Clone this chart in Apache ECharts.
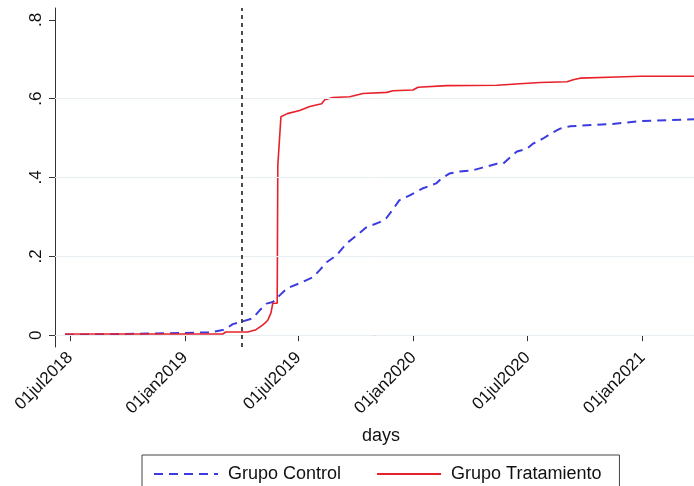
<!DOCTYPE html>
<html style="height: 100%">
<head>
    <meta charset="utf-8">
    <title>Grupo Control vs Grupo Tratamiento</title>
    <script src="https://cdn.jsdelivr.net/npm/echarts@6/dist/echarts.min.js"></script>
    <style>
        html, body { margin: 0; padding: 0; background: #fff; }
        #container { width: 694px; height: 486px; }
    </style>
</head>
<body>
<div id="container"></div>
<script>
    // ticks of the x axis (dates) and their labels
    var xTickDates = ['2018-07-01', '2019-01-01', '2019-07-01', '2020-01-01', '2020-07-01', '2021-01-01'];
    var xTickLabels = ['01jul2018', '01jan2019', '01jul2019', '01jan2020', '01jul2020', '01jan2021'];
    var yTickValues = [0, 0.2, 0.4, 0.6, 0.8];
    var yTickLabels = ['0', '.2', '.4', '.6', '.8'];
    var gridValues = [0, 0.2, 0.4, 0.6];
    var cutDate = '2019-04-01';

    // Grupo Control (dashed blue)
    var controlDates = ['2018-06-23', '2018-11-06', '2019-02-10', '2019-03-02', '2019-03-09', '2019-03-18', '2019-03-30',
        '2019-04-19', '2019-04-30', '2019-05-11', '2019-05-21', '2019-06-01', '2019-06-13', '2019-07-03', '2019-07-24',
        '2019-08-04', '2019-08-15', '2019-08-31', '2019-09-16', '2019-10-02', '2019-10-17', '2019-11-07', '2019-11-18',
        '2019-11-28', '2019-12-09', '2019-12-25', '2020-01-15', '2020-02-06', '2020-02-14', '2020-02-27', '2020-03-14',
        '2020-04-04', '2020-04-20', '2020-05-13', '2020-05-23', '2020-06-03', '2020-06-14', '2020-06-30', '2020-07-10',
        '2020-07-26', '2020-08-10', '2020-08-22', '2020-09-07', '2020-11-14', '2020-12-28', '2021-03-24'];
    var controlValues = [0.001, 0.004, 0.007, 0.013, 0.018, 0.028, 0.033,
        0.043, 0.063, 0.080, 0.084, 0.101, 0.119, 0.132, 0.147,
        0.165, 0.185, 0.203, 0.233, 0.253, 0.273, 0.286, 0.296,
        0.317, 0.342, 0.354, 0.372, 0.385, 0.397, 0.410, 0.415,
        0.418, 0.425, 0.435, 0.435, 0.451, 0.466, 0.473, 0.486,
        0.499, 0.514, 0.524, 0.530, 0.536, 0.543, 0.548];

    // Grupo Tratamiento (solid red)
    var tratDates = ['2018-06-23', '2019-03-02', '2019-03-07', '2019-04-11', '2019-04-23', '2019-05-04', '2019-05-08',
        '2019-05-13', '2019-05-18', '2019-05-21', '2019-05-28', '2019-05-29', '2019-06-01', '2019-06-03', '2019-06-13',
        '2019-07-03', '2019-07-19', '2019-08-07', '2019-08-12', '2019-08-25', '2019-09-21', '2019-10-12', '2019-11-19',
        '2019-11-29', '2019-12-31', '2020-01-08', '2020-02-23', '2020-05-13', '2020-06-19', '2020-07-21', '2020-09-02',
        '2020-09-12', '2020-09-23', '2020-11-21', '2020-12-28', '2021-03-24'];
    var tratValues = [0.003, 0.003, 0.008, 0.008, 0.013, 0.025, 0.030,
        0.038, 0.056, 0.081, 0.081, 0.430, 0.432, 0.554, 0.562,
        0.570, 0.580, 0.587, 0.597, 0.603, 0.605, 0.613, 0.616,
        0.620, 0.622, 0.629, 0.633, 0.634, 0.638, 0.641, 0.643,
        0.648, 0.652, 0.655, 0.657, 0.657];

    // dates -> milliseconds (UTC) so a plain value axis can be used
    function toTime(s) {
        var p = s.split('-');
        return Date.UTC(+p[0], +p[1] - 1, +p[2]);
    }
    function pairs(dates, vals) {
        var out = [];
        for (var i = 0; i < dates.length; i++) {
            out.push([toTime(dates[i]), vals[i]]);
        }
        return out;
    }

    var tickTimes = xTickDates.map(toTime);
    var font = 'Liberation Sans, Arial, sans-serif';

    var myChart = echarts.init(document.getElementById('container'));
    var option = {
        animation: false,
        backgroundColor: '#fff',
        grid: { left: 55, right: 0, top: 8, bottom: 139 },
        legend: {
            left: 142,
            top: 455,
            padding: [10, 18, 20, 11],
            borderColor: '#444',
            borderWidth: 1,
            itemWidth: 64,
            itemHeight: 14,
            itemGap: 35,
            itemStyle: { color: 'transparent', borderColor: 'transparent', borderWidth: 0 },
            textStyle: { fontFamily: font, fontSize: 18, color: '#111', padding: [0, 0, 0, 5] },
            data: ['Grupo Control', 'Grupo Tratamiento']
        },
        xAxis: {
            type: 'value',
            min: toTime('2018-06-07'),
            max: toTime('2021-03-24'),
            name: 'days',
            nameLocation: 'middle',
            nameGap: 80,
            nameTextStyle: { fontFamily: font, fontSize: 18, color: '#111', padding: [0, 0, 0, 13] },
            axisLine: { lineStyle: { color: '#333', width: 1 } },
            axisTick: { show: true, length: 6, lineStyle: { color: '#333' }, customValues: tickTimes },
            axisLabel: {
                customValues: tickTimes,
                rotate: 45,
                margin: 8,
                fontFamily: font,
                fontSize: 17,
                color: '#111',
                formatter: function (v) {
                    var i = tickTimes.indexOf(+v);
                    return i >= 0 ? xTickLabels[i] : '';
                }
            },
            splitLine: { show: false }
        },
        yAxis: {
            type: 'value',
            min: -0.03,
            max: 0.83,
            axisLine: { show: true, lineStyle: { color: '#333', width: 1 } },
            axisTick: { show: true, length: 6, lineStyle: { color: '#333' }, customValues: yTickValues },
            axisLabel: {
                customValues: yTickValues,
                rotate: 90,
                margin: 10,
                fontFamily: font,
                fontSize: 17,
                color: '#111',
                formatter: function (v) {
                    var i = yTickValues.indexOf(Math.round(v * 10) / 10);
                    return i >= 0 ? yTickLabels[i] : '';
                }
            },
            splitLine: { show: false }
        },
        series: [
            {
                // light grid lines
                name: 'grid',
                type: 'line',
                data: [],
                z: 1,
                silent: true,
                markLine: {
                    silent: true,
                    symbol: ['none', 'none'],
                    label: { show: false },
                    lineStyle: { color: '#e6eef1', width: 1, type: 'solid' },
                    data: gridValues.map(function (v) { return { yAxis: v }; })
                }
            },
            {
                name: 'Grupo Control',
                type: 'line',
                symbol: 'none',
                z: 2,
                color: '#3b3bdf',
                lineStyle: { color: '#3b3bdf', width: 2, type: [9, 6] },
                data: pairs(controlDates, controlValues)
            },
            {
                name: 'Grupo Tratamiento',
                type: 'line',
                symbol: 'none',
                z: 3,
                color: '#e8202a',
                lineStyle: { color: '#e8202a', width: 1.6 },
                data: pairs(tratDates, tratValues)
            },
            {
                // dashed vertical cut line
                name: 'cut',
                type: 'line',
                data: [],
                z: 4,
                silent: true,
                markLine: {
                    silent: true,
                    symbol: ['none', 'none'],
                    label: { show: false },
                    lineStyle: { color: '#111', width: 1.5, type: [4, 4] },
                    data: [{ xAxis: toTime(cutDate) }]
                }
            }
        ]
    };
    myChart.setOption(option);
</script>
</body>
</html>
